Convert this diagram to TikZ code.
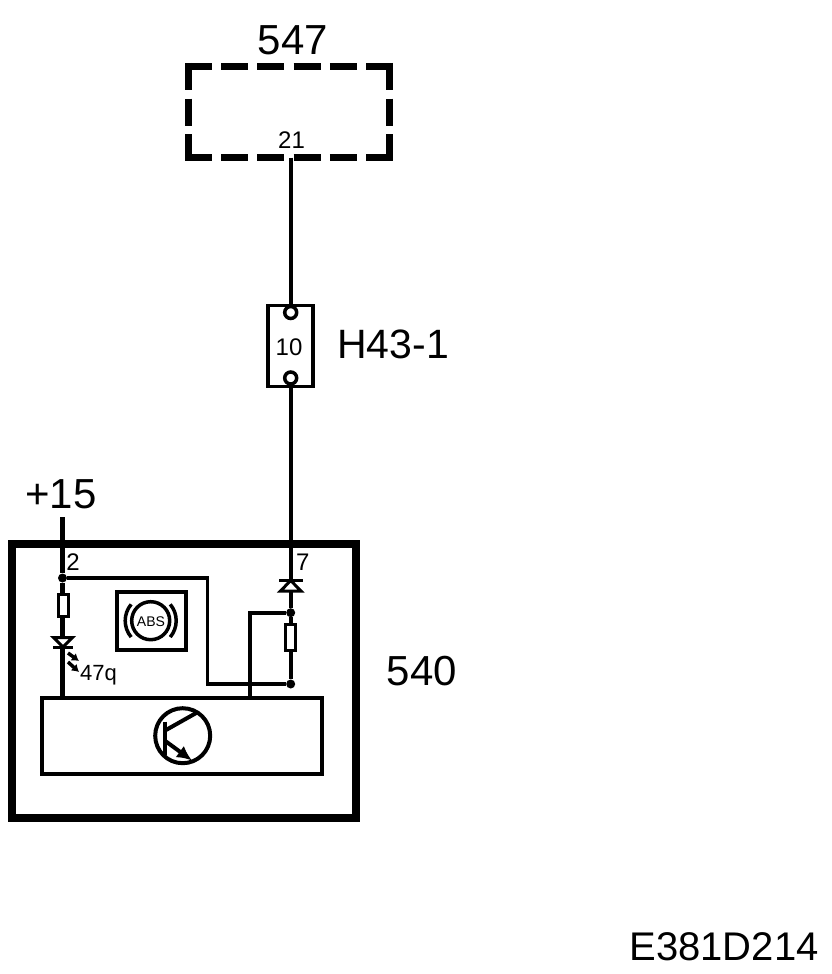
\documentclass[tikz,border=0pt]{standalone}
\usepackage{fontspec}
\setmainfont{Liberation Sans}
\usetikzlibrary{arrows.meta,backgrounds,calc}

\newcommand{\fsz}[1]{\fontsize{#1}{#1}\selectfont}

\begin{document}
\begin{tikzpicture}[x=1pt,y=-1pt,line join=miter,
        wire/.style={line width=4.2pt},
        thinwire/.style={line width=3.6pt},
        dashside/.style={line width=7pt,dash pattern=on 27pt off 9.2pt},
        dashupright/.style={line width=7pt,dash pattern=on 27pt off 8.5pt},
        box/.style={rectangle,draw=black,fill=white,inner sep=0pt},
        res/.style={box,line width=3pt,minimum width=10pt},
        dot/.style={circle,fill=black,inner sep=0pt,minimum size=9pt},
        ring/.style={circle,draw=black,fill=white,line width=3.5pt,inner sep=0pt,minimum size=12pt},
        big/.style={inner sep=0pt,anchor=base,font=\fsz{42}},
        small/.style={inner sep=0pt,anchor=base,font=\fsz{24}},
        diode/.style={draw=black,fill=white,line width=3pt}]
        \useasboundingbox (0,0) rectangle (832,974);
        % unit 547
        \node (unitb) at (289,112) [inner sep=0pt,minimum width=201pt,minimum height=91pt] {};
        \draw[dashside] (185,66.5) -- (393,66.5);
        \draw[dashside] (185,157.5) -- (393,157.5);
        \draw[dashupright] (188.5,63) -- (188.5,161);
        \draw[dashupright] (389.5,63) -- (389.5,161);
        \node[big]   (unitname)  at (293,55)  {547};
        \node[small] (pin21)     at (291.5,148) {21};
        % connector H43-1
        \node[box,line width=3.5pt,minimum width=45pt,minimum height=81pt] (conn) at (290.5,346) {};
        \node[ring] (conna) at (290.7,312.5) {};
        \node[ring] (connb) at (290.7,378) {};
        \node[small] (pin10) at (289,355) {10};
        \node[big,font=\fsz{41}] (connname) at (393,358) {H43-1};
        % unit 540
        \node[draw=black,line width=8.5pt,inner sep=0pt,minimum width=344pt,minimum height=274pt] (unit) at (184,681) {};
        \node[box,line width=4pt,minimum width=279.5pt,minimum height=76pt] (ctl) at (181.75,736) {};
        \coordinate (plus) at (62.5,517);
        \coordinate (pinr) at (290.7,545);
        \node[dot] (dota) at (62.5,578) {};
        \node[dot] (dotb) at (290.7,612.7) {};
        \node[dot] (dotc) at (290.7,684) {};
        \coordinate (benda) at (207.5,578);
        \coordinate (bendb) at (207.5,684);
        \coordinate (bendc) at (250,612.7);
        \node[res,minimum height=22pt] (resa) at (63,605.5) {};
        \node[res,minimum height=26pt] (resb) at (290.5,637.5) {};
        % diodes
        \draw[diode] (53.5,637.5) -- (72.5,637.5) -- (63,647) -- cycle;
        \draw[diode] (53,647.5) -- (73,647.5);
        \draw[diode] (280.5,591) -- (301,591) -- (290.7,580.5) -- cycle;
        \draw[diode] (279,580) -- (302.5,580);
        % led arrows
        \draw[line width=3.5pt,-{Latex[length=7pt,width=9pt]}] (68,653) -- (79,661);
        \draw[line width=3.5pt,-{Latex[length=7pt,width=9pt]}] (68,662) -- (79,672);
        % lamp symbol
        \node[box,line width=4pt,minimum width=69pt,minimum height=58pt] (lamp) at (151,620.5) {};
        \node[circle,draw=black,line width=3.5pt,inner sep=0pt,minimum size=38pt] (lampc) at (150.7,620.7) {};
        \draw[line width=3.5pt] (lampc.center) ++(220:25.5pt) arc[start angle=220,end angle=140,radius=25.5pt];
        \draw[line width=3.5pt] (lampc.center) ++(-40:25.5pt) arc[start angle=-40,end angle=40,radius=25.5pt];
        \node[inner sep=0pt,anchor=base,font=\fsz{14}] (lamptxt) at (151,626.5) {ABS};
        % transistor
        \node[circle,draw=black,line width=4pt,inner sep=0pt,minimum size=55pt] (trans) at (182.7,735.7) {};
        \draw[line width=4.5pt] (165,721.5) -- (165,755);
        \draw[line width=4pt] (166,730) -- (196.7,712.7);
        \draw[line width=4pt,-{Latex[length=15pt,width=14pt]}] (166,741.5) -- (192,760.5);
        % texts
        \node[big]   (plusname) at (61,508)  {+15};
        \node[small] (pin2)     at (73,570.7) {2};
        \node[small] (pin7)     at (302.7,570.7) {7};
        \node[inner sep=0pt,anchor=base west,font=\fsz{22}] (ledname) at (80,680) {47q};
        \node[big]   (unitnameb) at (422,685) {540};
        \node[inner sep=0pt,anchor=base,font=\fsz{40}] (docid) at (724,960) {E381D214};
        \begin{pgfonlayer}{background}
          \draw[wire] (conna.center |- unitb.south) -- (conna);
          \draw[wire] (connb) -- (pinr) -- (dotb);
          \draw[wire] (dotb) -- (dotc);
          \draw[wire] (plus) -- (dota);
          \draw[wire] (dota) -- (dota |- ctl.north);
          \draw[thinwire] (dota) -- (benda) -- (bendb) -- (dotc);
          \draw[thinwire] (dotb) -- (bendc) -- (bendc |- ctl.north);
        \end{pgfonlayer}
      \end{tikzpicture}
\end{document}
